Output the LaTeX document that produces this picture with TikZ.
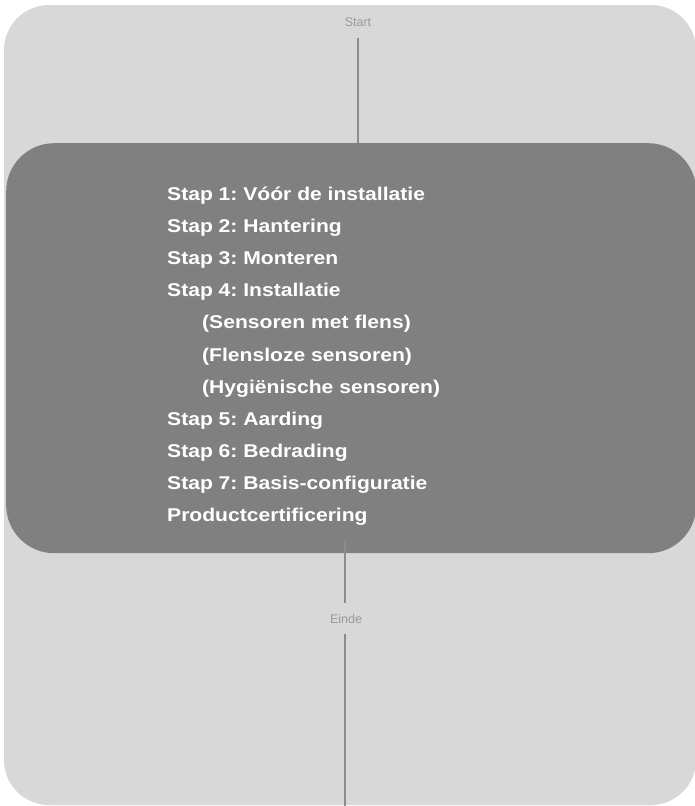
\documentclass[tikz,border=0pt]{standalone}
\usepackage{fontspec}
\setmainfont{Liberation Sans}
\newfontfamily\stepfont{Liberation Sans}[FakeStretch=1.14]
\definecolor{outerbg}{HTML}{D8D8D8}
\definecolor{innerbg}{HTML}{808080}
\definecolor{linegray}{HTML}{8C8C8C}
\definecolor{labelgray}{HTML}{9A9A9A}
\tikzset{
  panel/.style={fill=outerbg, draw=none, rounded corners=45pt},
  stepsbox/.style={fill=innerbg, draw=none, rounded corners=48pt},
  endlabel/.style={text=labelgray, font=\fontsize{12.5}{14}\selectfont, inner sep=0pt},
  steptext/.style={text=white, font=\frenchspacing\stepfont\bfseries\fontsize{18.5}{22}\selectfont, inner sep=0pt, anchor=base west},
  connector/.style={draw=linegray, line width=2pt}
}
\begin{document}
\begin{tikzpicture}[x=1pt,y=-1pt]
\useasboundingbox (0,0) rectangle (694,806);
\path[panel] (4,5) rectangle (696,805);
\node[stepsbox, minimum width=690pt, minimum height=410pt, inner sep=0pt, anchor=north west] (box) at (6,143) {};
\node[endlabel] (start) at (358,22) {Start};
\coordinate (starttop) at (358,38);
\draw[connector] (starttop) -- (starttop |- box.north);
\foreach \t [count=\i from 0] in {Stap 1: Vóór de installatie,Stap 2: Hantering,Stap 3: Monteren,Stap 4: Installatie,\hspace*{35pt}(Sensoren met flens),\hspace*{35pt}(Flensloze sensoren),\hspace*{35pt}(Hygiënische sensoren),Stap 5: Aarding,Stap 6: Bedrading,Stap 7: Basis-configuratie,Productcertificering}
  \node[steptext] (l\i) at (167,200.5+32.1*\i) {\t};
\node[endlabel] (einde) at (346,619) {Einde};
\coordinate (boxlow) at (345,541);
\coordinate (eindetop) at (345,603);
\coordinate (eindelow) at (345,634);
\coordinate (finish) at (345,806);
\draw[connector] (boxlow) -- (eindetop);
\draw[connector] (eindelow) -- (finish);
\end{tikzpicture}
\end{document}
